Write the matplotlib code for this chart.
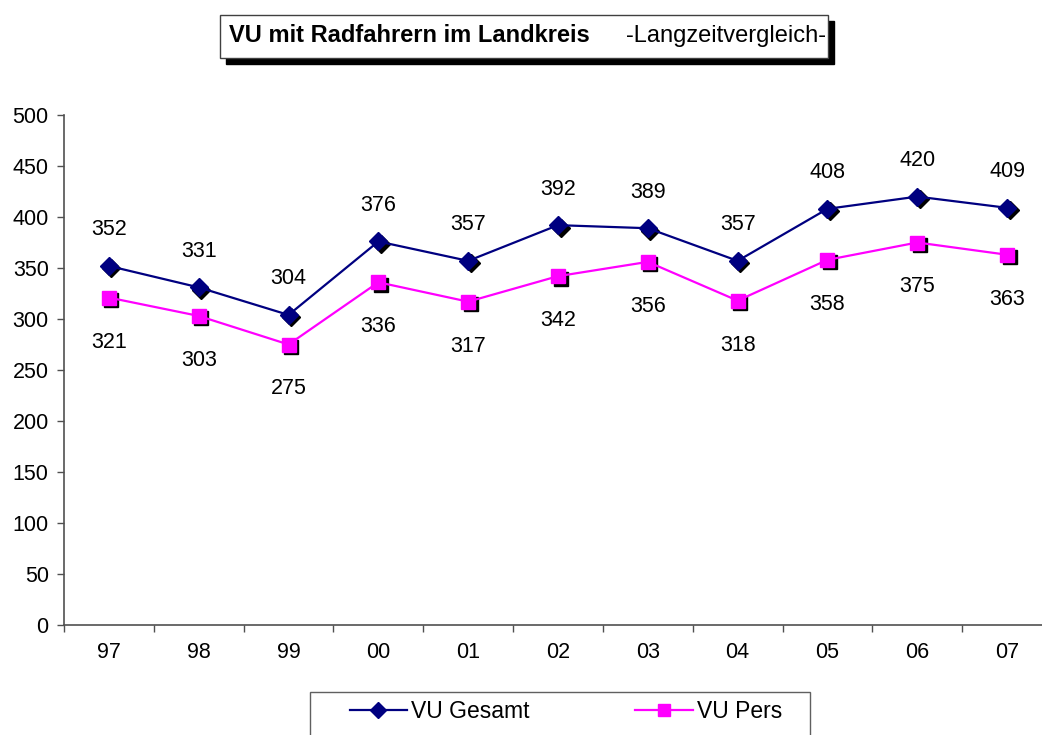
import numpy as np
import matplotlib
matplotlib.use('Agg')
import matplotlib.pyplot as plt
from matplotlib.patches import Rectangle
import matplotlib.transforms as mtransforms

# Chart data
years = ['97', '98', '99', '00', '01', '02', '03', '04', '05', '06', '07']
vu_gesamt = [352, 331, 304, 376, 357, 392, 389, 357, 408, 420, 409]
vu_pers = [321, 303, 275, 336, 317, 342, 356, 318, 358, 375, 363]

W, H = 1042, 735
plt.rcParams['font.family'] = ['Liberation Sans', 'DejaVu Sans']
fig = plt.figure(figsize=(W / 100, H / 100), dpi=100)

# Axes: left at x=64px, y from 625px (0) to 115px (500), right edge past the figure
ax = fig.add_axes([64 / W, (H - 625) / H, (1052 - 64) / W, 510 / H])

x = np.arange(len(years))
navy = '#000080'
magenta = '#FF00FF'
num_size = 15.5

# Shadow for markers (black, offset down-right)
shadow = mtransforms.offset_copy(ax.transData, fig=fig, x=2.5, y=-2.5, units='dots')
ax.plot(x, vu_gesamt, linestyle='none', marker='D', markersize=9,
        color='black', transform=shadow, zorder=2)
ax.plot(x, vu_pers, linestyle='none', marker='s', markersize=10,
        color='black', transform=shadow, zorder=2)

ax.plot(x, vu_gesamt, color=navy, linewidth=1.6, marker='D', markersize=9,
        markerfacecolor=navy, markeredgecolor=navy, label='VU Gesamt', zorder=3)
ax.plot(x, vu_pers, color=magenta, linewidth=1.6, marker='s', markersize=10,
        markerfacecolor=magenta, markeredgecolor=magenta, label='VU Pers', zorder=3)

# Data labels
for i in range(len(years)):
    ax.annotate(str(vu_gesamt[i]), (x[i], vu_gesamt[i]), xytext=(0, 26),
                textcoords='offset points', ha='center', va='center', fontsize=num_size)
    ax.annotate(str(vu_pers[i]), (x[i], vu_pers[i]), xytext=(0, -32),
                textcoords='offset points', ha='center', va='center', fontsize=num_size)

ax.set_xlim(-0.5, len(years) - 0.5)
ax.set_ylim(0, 500)
ax.set_yticks(np.arange(0, 501, 50))
ax.set_xticks(x)
ax.set_xticklabels(years)
ax.set_xticks(np.arange(-0.5, len(years), 1), minor=True)
ax.tick_params(axis='x', which='major', length=0, pad=12, labelsize=num_size)
ax.tick_params(axis='x', which='minor', length=5, width=1, color='#505050')
ax.tick_params(axis='y', length=5, width=1, color='#505050', labelsize=num_size, pad=6)

ax.spines['top'].set_visible(False)
ax.spines['right'].set_visible(False)
for s in ['left', 'bottom']:
    ax.spines[s].set_color('#505050')
    ax.spines[s].set_linewidth(1.2)

# Title box with shadow
fig.patches.append(Rectangle((226 / W, 1 - 64 / H), 608 / W, 43 / H,
                             transform=fig.transFigure, facecolor='black',
                             edgecolor='black', zorder=1))
fig.patches.append(Rectangle((220 / W, 1 - 58 / H), 608 / W, 43 / H,
                             transform=fig.transFigure, facecolor='white',
                             edgecolor='#404040', linewidth=1, zorder=2))
fig.text(229 / W, 1 - 36 / H, 'VU mit Radfahrern im Landkreis', fontsize=17,
         fontweight='bold', ha='left', va='center', zorder=3)
fig.text(826 / W, 1 - 36 / H, '-Langzeitvergleich-', fontsize=17,
         ha='right', va='center', zorder=3)

# Legend box (cut off at the bottom)
fig.patches.append(Rectangle((310 / W, 1 - 745 / H), 500 / W, 53 / H,
                             transform=fig.transFigure, facecolor='white',
                             edgecolor='#606060', linewidth=1, zorder=1))
handles, labels = ax.get_legend_handles_labels()
fig.legend(handles, labels, loc='center', bbox_to_anchor=(566 / W, 1 - 712 / H),
           ncol=2, frameon=False, fontsize=16.5, handlelength=2.5,
           columnspacing=4.6, handletextpad=0.2, markerscale=0.85)

fig.savefig('out.png', dpi=100)
